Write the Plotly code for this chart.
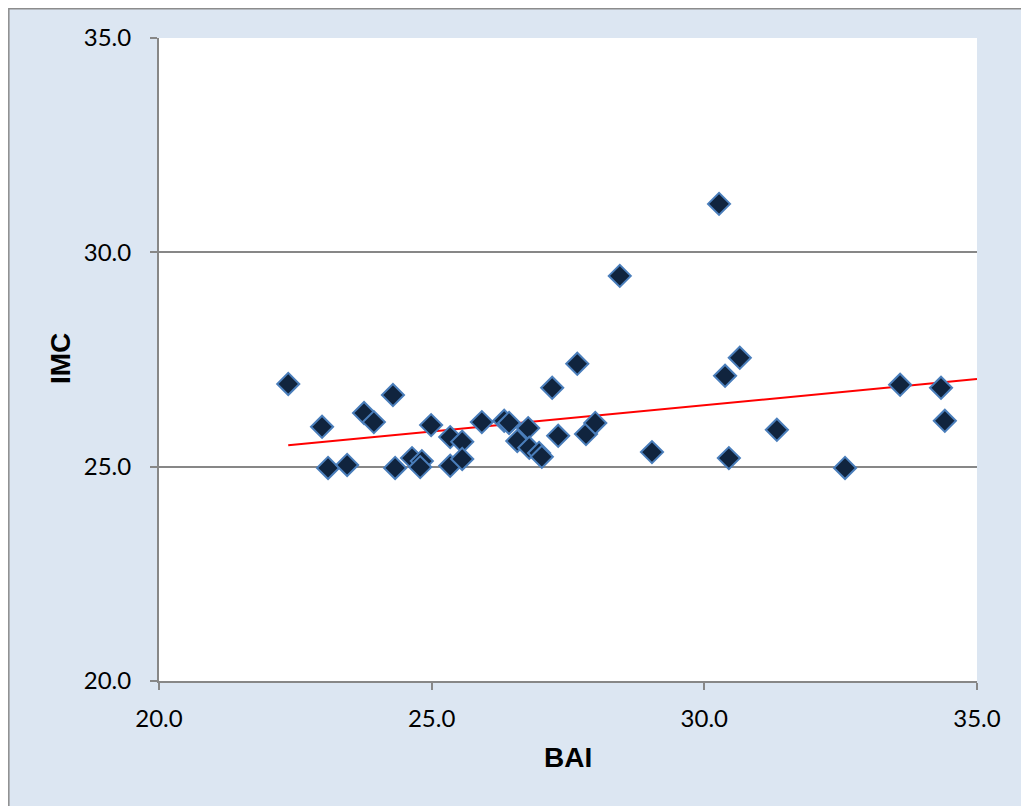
import numpy as np
import plotly.graph_objects as go

# Data
bai = [22.37, 22.99, 23.10, 23.45, 23.76, 23.94, 24.29, 24.33, 24.64, 24.82,
       24.79, 24.99, 25.34, 25.34, 25.56, 25.56, 25.92, 26.33, 26.42, 26.77,
       26.57, 26.79, 26.97, 27.02, 27.21, 27.67, 27.32, 27.83, 28.00, 28.45,
       30.27, 30.65, 30.38, 29.04, 30.45, 31.33, 32.58, 33.59, 34.34, 34.41]
imc = [26.93, 25.93, 24.97, 25.04, 26.25, 26.04, 26.67, 24.97, 25.20, 25.13,
       24.99, 25.97, 25.69, 25.02, 25.58, 25.18, 26.04, 26.07, 26.02, 25.90,
       25.60, 25.44, 25.32, 25.23, 26.84, 27.40, 25.72, 25.76, 26.02, 29.45,
       31.13, 27.54, 27.12, 25.34, 25.20, 25.86, 24.97, 26.91, 26.84, 26.07]

x_range = [20.0, 35.0]
y_range = [20.0, 35.0]
tick_vals = [20.0, 25.0, 30.0, 35.0]
tick_text = ["20.0", "25.0", "30.0", "35.0"]

# Linear trendline (least squares), drawn from min BAI to the axis end
slope, intercept = np.polyfit(bai, imc, 1)
trend_x = np.array([min(bai), x_range[1]])
trend_y = slope * trend_x + intercept

# The page body adds an 8px offset; figure occupies 8..8+W in the window
OFF = 8
W, H = 1029, 806
L = 159 - OFF
T = 38 - OFF
R = (OFF + W) - 977
B = (OFF + H) - 681
pw, ph = W - L - R, H - T - B

def px_x(p):  # window pixel -> paper x
    return (p - OFF - L) / pw

def px_y(p):  # window pixel -> paper y
    return (OFF + H - B - p) / ph

fig = go.Figure()
fig.add_trace(go.Scatter(
    x=trend_x, y=trend_y, mode="lines",
    line=dict(color="#FF0000", width=2), showlegend=False, hoverinfo="skip"))
fig.add_trace(go.Scatter(
    x=bai, y=imc, mode="markers",
    marker=dict(symbol="diamond", size=17, color="#10243E",
                line=dict(color="#4A7EBB", width=2)),
    showlegend=False))

axis_common = dict(
    range=x_range, tickvals=tick_vals, ticktext=tick_text,
    showline=True, linecolor="#878787", linewidth=2,
    ticks="outside", ticklen=7, tickwidth=1.5, tickcolor="#878787",
    tickfont=dict(family="Lato, Liberation Sans, sans-serif", size=24, color="#000000"),
    zeroline=False,
)

fig.update_xaxes(**axis_common, showgrid=False, ticklabelstandoff=8)
fig.update_yaxes(**{**axis_common, "range": y_range}, showgrid=True,
                 gridcolor="#878787", gridwidth=2, ticklabelstandoff=14)

fig.add_annotation(text="<b>BAI</b>", xref="paper", yref="paper",
                   x=px_x(568), y=px_y(757), xanchor="center", yanchor="middle",
                   showarrow=False,
                   font=dict(family="Liberation Sans, Arial, sans-serif", size=28, color="#000000"))
fig.add_annotation(text="<b>IMC</b>", xref="paper", yref="paper",
                   x=px_x(61), y=px_y(359), xanchor="center", yanchor="middle",
                   textangle=-90, showarrow=False,
                   font=dict(family="Liberation Sans, Arial, sans-serif", size=28, color="#000000"))

# Chart-area border along the figure edge
fig.add_shape(type="rect", xref="paper", yref="paper",
              x0=-L / pw + 0.001, y0=1 + T / ph - 0.001,
              x1=1 + R / pw, y1=-B / ph,
              fillcolor="rgba(0,0,0,0)", line=dict(color="#8C8C8C", width=1.5),
              layer="above")

fig.update_layout(
    width=W, height=H,
    margin=dict(l=L, r=R, t=T, b=B, autoexpand=False),
    paper_bgcolor="#DCE6F2", plot_bgcolor="#FFFFFF",
    showlegend=False,
)

fig.write_html("out.html")
